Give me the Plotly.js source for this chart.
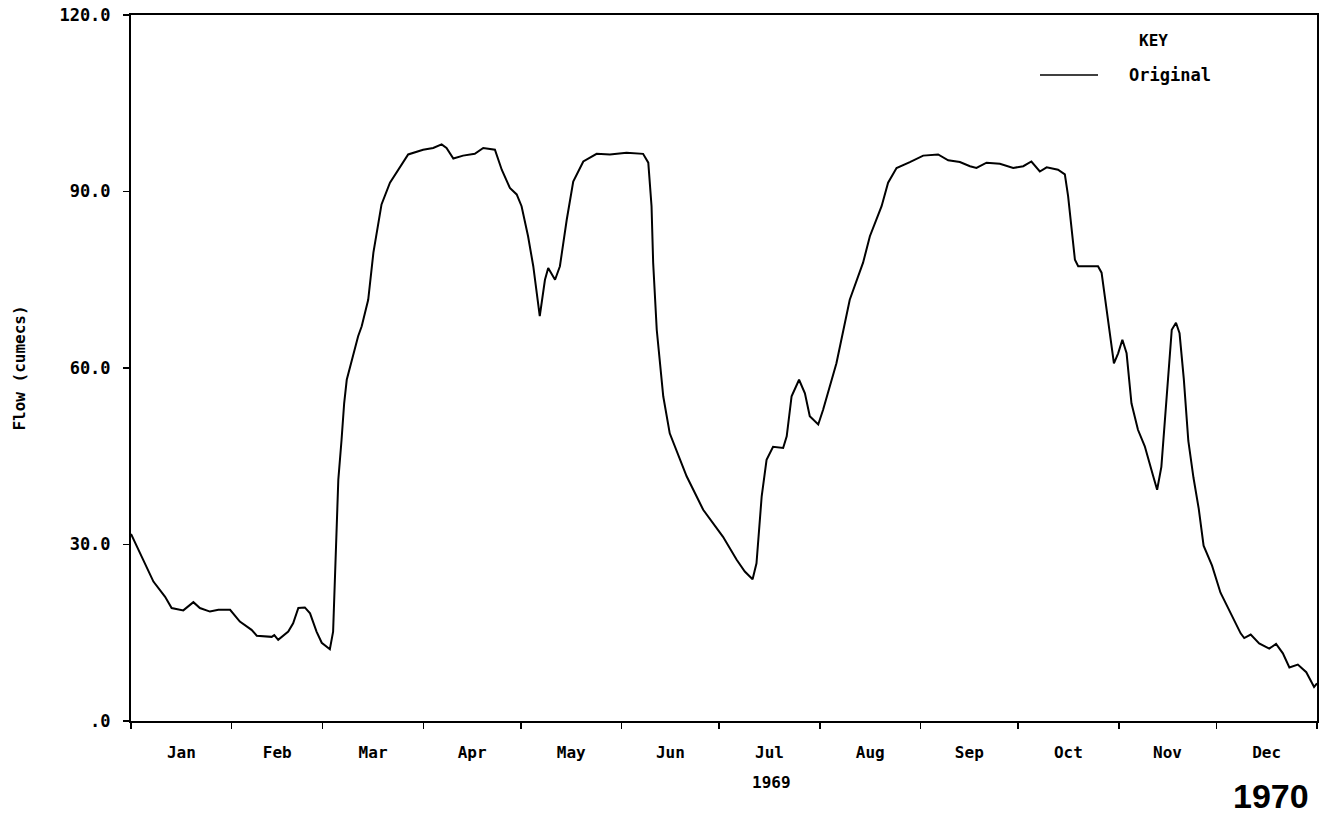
<!DOCTYPE html>
<html>
<head>
<meta charset="utf-8">
<script src="https://cdn.plot.ly/plotly-3.0.1.min.js"></script>
<style>
html,body{margin:0;padding:0;background:#fff;}
#chart{width:1328px;height:815px;}
</style>
</head>
<body>
<div id="chart"></div>
<script>
// Day of year 1969 (0 = 1 Jan)
const dayOfYear = [0, 3.8, 6.9, 10.5, 12.5, 16.1, 19.2, 21.2, 24.3, 26.9, 30.5, 33.5, 37.1, 38.7, 43.3, 44.1, 45.3, 48.4, 49.9, 51.5,
  53.5, 55.1, 57.1, 58.7, 61.2, 62.2, 63.0, 63.8, 64.8, 65.6, 66.4, 67.9, 69.9, 71.0, 73.0, 74.6, 76.1, 77.1, 79.7, 83.8,
  85.3, 89.9, 93.0, 95.6, 97.1, 99.2, 102.2, 105.8, 108.4, 112.0, 114.1, 116.6, 118.7, 120.2, 122.2, 123.8, 125.8, 127.4, 128.4, 130.5,
  132.0, 134.1, 136.1, 139.2, 143.3, 147.4, 152.5, 157.6, 159.2, 160.2, 160.7, 161.8, 163.8, 165.8, 171.0, 176.1, 182.2, 186.4, 188.9, 191.3,
  192.5, 194.1, 195.6, 197.6, 200.7, 201.8, 203.3, 205.6, 207.4, 208.9, 211.5, 213.0, 217.1, 221.2, 225.3, 227.4, 231.0, 233.0, 235.6, 239.7,
  243.8, 248.4, 251.5, 255.1, 258.2, 260.2, 263.3, 267.4, 271.5, 274.6, 277.1, 279.7, 281.8, 285.3, 287.4, 288.4, 289.4, 290.5, 291.5, 297.6,
  298.7, 300.2, 302.5, 303.8, 305.1, 306.4, 307.9, 309.9, 312.0, 314.6, 315.8, 317.1, 318.7, 320.3, 321.6, 322.7, 324.0, 325.4, 327.0, 328.6,
  330.1, 332.7, 335.3, 338.4, 341.5, 342.6, 344.6, 347.2, 350.3, 352.4, 354.5, 356.5, 359.1, 361.7, 364.1, 365.0];

// Flow (cumecs)
const flow = [31.8, 27.4, 23.7, 21.1, 19.2, 18.8, 20.2, 19.2, 18.6, 18.9, 18.9, 16.9, 15.5, 14.5, 14.3, 14.6, 13.8, 15.2, 16.6, 19.2,
  19.3, 18.3, 15.2, 13.3, 12.2, 15.2, 27.4, 41.0, 47.8, 54.0, 58.0, 61.4, 65.4, 67.1, 71.6, 79.6, 84.7, 87.8, 91.5, 94.9,
  96.3, 97.1, 97.4, 98.0, 97.4, 95.6, 96.1, 96.4, 97.4, 97.1, 93.7, 90.6, 89.5, 87.5, 82.4, 77.3, 68.8, 75.0, 77.0, 75.0,
  77.3, 85.2, 91.7, 95.1, 96.4, 96.3, 96.6, 96.4, 94.9, 87.5, 77.9, 66.5, 55.2, 48.9, 41.6, 35.9, 31.3, 27.4, 25.4, 24.1,
  26.8, 38.2, 44.4, 46.6, 46.4, 48.4, 55.2, 58.0, 55.7, 51.8, 50.4, 52.9, 60.8, 71.6, 77.9, 82.4, 87.5, 91.5, 94.0, 95.0,
  96.1, 96.3, 95.3, 95.0, 94.3, 94.0, 94.9, 94.7, 94.0, 94.3, 95.1, 93.4, 94.1, 93.7, 92.9, 89.2, 84.1, 78.4, 77.3, 77.3,
  76.2, 69.9, 60.8, 62.5, 64.8, 62.5, 54.0, 49.5, 46.7, 41.6, 39.3, 43.2, 55.6, 66.5, 67.7, 65.9, 58.2, 47.6, 41.3, 36.1,
  29.8, 26.4, 21.8, 18.4, 14.9, 14.1, 14.7, 13.2, 12.3, 13.1, 11.5, 9.1, 9.6, 8.3, 5.8, 6.4];

const yTickVals = [0, 30, 60, 90, 120];
const yTickText = ['.0', '30.0', '60.0', '90.0', '120.0'];
const seriesName = 'Original';
const keyTitle = 'KEY';
const yTitle = 'Flow (cumecs)';
const yearLabel = '1969';
const cornerLabel = '1970';

function dayToDate(d) {
  const ms = Date.UTC(1969, 0, 1) + d * 86400000;
  return new Date(ms).toISOString().slice(0, 19).replace('T', ' ');
}
const xDates = dayOfYear.map(dayToDate);

const monoFont = {family: 'DejaVu Sans Mono, monospace', size: 16, color: '#000', weight: 'bold'};
const bigMono = {family: 'DejaVu Sans Mono, monospace', size: 17, color: '#000', weight: 'bold'};

const trace = {
  x: xDates, y: flow, type: 'scatter', mode: 'lines', name: seriesName,
  line: {color: '#000', width: 2}, showlegend: false, hoverinfo: 'skip'
};

const L = 131, R = 1317, T = 15, B = 721;
const px = v => (v - L) / (R - L);
const py = v => (B - v) / (B - T);

const layout = {
  width: 1328, height: 815,
  margin: {l: L, r: 1328 - R, t: T, b: 815 - B},
  paper_bgcolor: '#fff', plot_bgcolor: '#fff',
  showlegend: false,
  font: monoFont,
  xaxis: {
    type: 'date', range: ['1969-01-01', '1970-01-01'],
    tick0: '1969-01-01', dtick: 'M1', tickformat: '%b', ticklabelmode: 'period',
    showgrid: false, zeroline: false,
    showline: true, linecolor: '#000', linewidth: 2, mirror: true,
    ticks: 'outside', ticklen: 6, tickwidth: 1.5, tickcolor: '#000',
    ticklabelstandoff: 10,
    tickfont: monoFont
  },
  yaxis: {
    range: [0, 120], tickmode: 'array', tickvals: yTickVals, ticktext: yTickText,
    showgrid: false, zeroline: false,
    showline: true, linecolor: '#000', linewidth: 2, mirror: true,
    ticks: 'outside', ticklen: 6, tickwidth: 1.5, tickcolor: '#000',
    ticklabelstandoff: 9,
    tickfont: bigMono,
    title: {text: yTitle, font: monoFont, standoff: 30}
  },
  shapes: [
    {type: 'line', xref: 'paper', yref: 'paper', x0: px(1040), x1: px(1098), y0: py(75), y1: py(75),
     line: {color: '#000', width: 1.5}}
  ],
  annotations: [
    {text: keyTitle, xref: 'paper', yref: 'paper', x: px(1153), y: py(40), showarrow: false,
     xanchor: 'center', yanchor: 'middle', font: monoFont},
    {text: seriesName, xref: 'paper', yref: 'paper', x: px(1127), y: py(75), showarrow: false,
     xanchor: 'left', yanchor: 'middle', font: bigMono},
    {text: yearLabel, xref: 'paper', yref: 'paper', x: px(771), y: py(782), showarrow: false,
     xanchor: 'center', yanchor: 'middle', font: monoFont},
    {text: cornerLabel, xref: 'paper', yref: 'paper', x: px(1271), y: py(796), showarrow: false,
     xanchor: 'center', yanchor: 'middle',
     font: {family: 'Liberation Sans, Arial, sans-serif', size: 34, color: '#000', weight: 'bold'}}
  ]
};

Plotly.newPlot('chart', [trace], layout, {displayModeBar: false, staticPlot: true});
</script>
</body>
</html>
